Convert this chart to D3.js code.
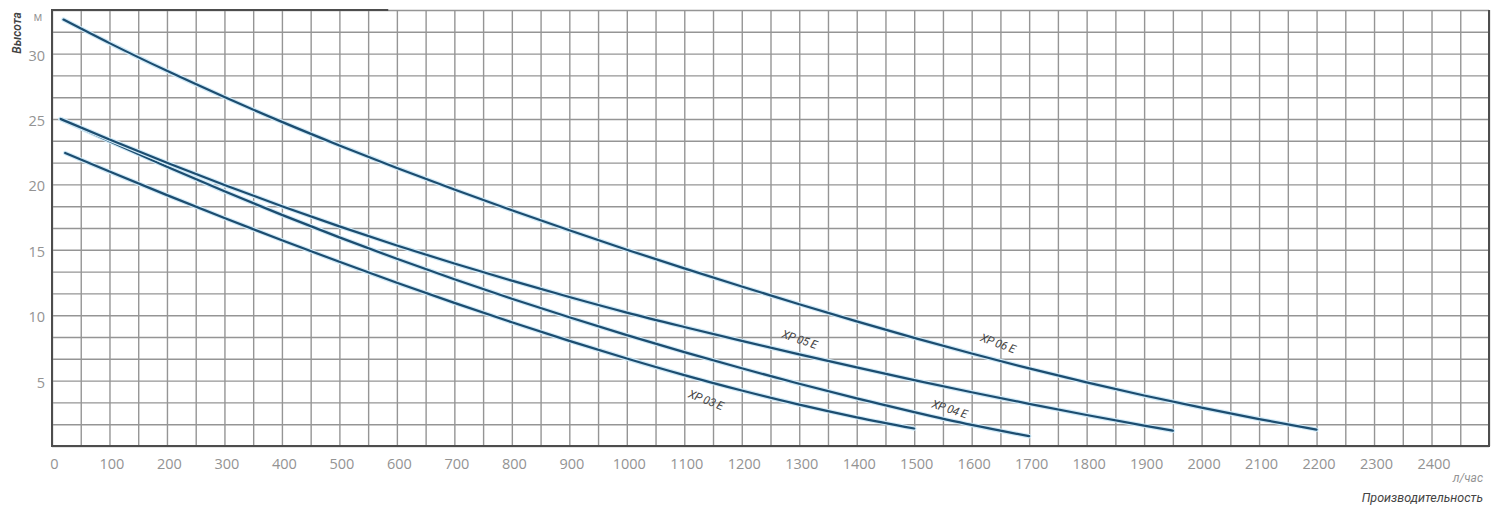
<!DOCTYPE html>
<html>
<head>
<meta charset="utf-8">
<script src="https://cdn.jsdelivr.net/npm/d3@7"></script>
<style>
  html, body { margin: 0; padding: 0; background: #ffffff; }
  svg { display: block; }
</style>
</head>
<body>
<svg id="chart" width="1500" height="520"></svg>
<script>
// ---------- DATA ----------
const xTickLabels = [0,100,200,300,400,500,600,700,800,900,1000,1100,1200,1300,1400,1500,1600,1700,1800,1900,2000,2100,2200,2300,2400];
const yTickLabels = [5,10,15,20,25,30];
const seriesNames = ["XP 03 E","XP 04 E","XP 05 E","XP 06 E"];

const xp03Flow = [23,100,200,300,400,500,600,700,800,900,1000,1100,1200,1300,1400,1500];
const xp03Head = [22.4,20.98,19.18,17.43,15.73,14.08,12.48,10.94,9.46,8.04,6.69,5.42,4.24,3.16,2.19,1.34];

const xp04Flow = [15,100,200,300,400,500,600,700,800,900,1000,1100,1200,1300,1400,1500,1600,1700];
const xp04Head = [25.0,23.3,21.35,19.47,17.67,15.95,14.31,12.75,11.26,9.84,8.48,7.18,5.94,4.76,3.64,2.59,1.61,0.75];

const xp05Flow = [15,100,200,300,400,500,600,700,800,900,1000,1100,1200,1300,1400,1500,1600,1700,1800,1900,1950];
const xp05Head = [25.0,23.43,21.65,19.95,18.33,16.79,15.33,13.95,12.64,11.39,10.2,9.1,8.04,7.01,6.01,5.04,4.11,3.22,2.37,1.56,1.17];

const xp06Flow = [20,100,200,300,400,500,600,700,800,900,1000,1100,1200,1300,1400,1500,1600,1700,1800,1900,2000,2100,2200];
const xp06Head = [32.6,30.8,28.68,26.68,24.78,22.98,21.26,19.61,18.02,16.49,15.01,13.58,12.19,10.84,9.53,8.27,7.07,5.93,4.86,3.86,2.93,2.06,1.25];

// flow at which each curve's name is written
const labelFlow = [1137,1561,1300,1645];

const xUnit = "л/час";
const xTitle = "Производительность";
const yUnit = "м";
const yTitle = "Высота";

// ---------- DRAWING ----------
(function () {
  const svg = d3.select("#chart");
  const pL = 52, pR = 1489, pT = 10, pB = 446;
  const x = d3.scaleLinear().domain([0, 2500]).range([pL, pR]);
  const y = d3.scaleLinear().domain([0, 100/3]).range([pB, pT]);

  const gridColor = "#959595";
  const frameColor = "#4d4d4d";
  const textColor = "#939393";
  const lineColor = "#1c4d70";

  const g = svg.append("g");
  g.append("g")
    .attr("transform", `translate(0,${pB})`)
    .call(d3.axisBottom(x).tickValues(d3.range(0, 2501, 50)).tickSize(-(pB - pT)).tickFormat(""))
    .call(s => s.select(".domain").remove())
    .call(s => s.selectAll("line").attr("stroke", gridColor).attr("stroke-width", 1.4));
  g.append("g")
    .attr("transform", `translate(${pL},0)`)
    .call(d3.axisLeft(y).tickValues(d3.range(0, 21).map(i => i * 5 / 3)).tickSize(-(pR - pL)).tickFormat(""))
    .call(s => s.select(".domain").remove())
    .call(s => s.selectAll("line").attr("stroke", gridColor).attr("stroke-width", 1.4));

  // frame
  g.append("line").attr("x1", pL).attr("x2", pL).attr("y1", pT).attr("y2", pB + 1)
    .attr("stroke", frameColor).attr("stroke-width", 2);
  g.append("line").attr("x1", pL - 1).attr("x2", pR + 1).attr("y1", pB).attr("y2", pB)
    .attr("stroke", frameColor).attr("stroke-width", 2);
  g.append("line").attr("x1", pR).attr("x2", pR).attr("y1", pT).attr("y2", pB)
    .attr("stroke", frameColor).attr("stroke-width", 2);
  g.append("line").attr("x1", pL - 1).attr("x2", x(585)).attr("y1", pT).attr("y2", pT)
    .attr("stroke", frameColor).attr("stroke-width", 2);

  // axis labels
  const xAxis = svg.append("g")
    .attr("transform", `translate(0,${pB})`)
    .call(d3.axisBottom(x).tickValues(xTickLabels).tickSize(0).tickPadding(13).tickFormat(d3.format("d")));
  xAxis.select(".domain").remove();
  xAxis.selectAll("text")
    .attr("fill", textColor).attr("font-family", "Open Sans, sans-serif").attr("font-size", 14.5)
    .attr("dx", 2);

  const yAxis = svg.append("g")
    .attr("transform", `translate(${pL},0)`)
    .call(d3.axisLeft(y).tickValues(yTickLabels).tickSize(0).tickPadding(7).tickFormat(d3.format("d")));
  yAxis.select(".domain").remove();
  yAxis.selectAll("text")
    .attr("fill", textColor).attr("font-family", "Open Sans, sans-serif").attr("font-size", 14.5)
    .attr("dy", "0.45em");

  svg.append("text").attr("x", 38).attr("y", 21).attr("text-anchor", "middle")
    .attr("fill", textColor).attr("font-family", "Open Sans, sans-serif").attr("font-size", 12)
    .text(yUnit);
  svg.append("text")
    .attr("transform", "translate(21,33) rotate(-90)")
    .attr("text-anchor", "middle")
    .attr("fill", "#444").attr("font-family", "Roboto, sans-serif")
    .attr("font-style", "italic").attr("font-weight", 600).attr("font-size", 12)
    .text(yTitle);

  svg.append("text").attr("x", 1483).attr("y", 482).attr("text-anchor", "end")
    .attr("fill", textColor).attr("font-family", "Roboto, sans-serif")
    .attr("font-style", "italic").attr("font-size", 12)
    .text(xUnit);
  svg.append("text").attr("x", 1483).attr("y", 502).attr("text-anchor", "end")
    .attr("fill", "#444").attr("font-family", "Roboto, sans-serif")
    .attr("font-style", "italic").attr("font-size", 12.5)
    .text(xTitle);

  // curves
  const flows = [xp03Flow, xp04Flow, xp05Flow, xp06Flow];
  const heads = [xp03Head, xp04Head, xp05Head, xp06Head];
  const lineGen = d3.line().x(d => x(d[0])).y(d => y(d[1])).curve(d3.curveMonotoneX);
  const labelOffset = [20, -10, -14, -16];

  seriesNames.forEach((name, i) => {
    const pts = d3.zip(flows[i], heads[i]);
    svg.append("path").datum(pts)
      .attr("d", lineGen)
      .attr("fill", "none")
      .attr("stroke", "#cfe9f7")
      .attr("stroke-width", 4.5)
      .attr("stroke-linecap", "round");
    svg.append("path").datum(pts)
      .attr("d", lineGen)
      .attr("fill", "none")
      .attr("stroke", lineColor)
      .attr("stroke-width", 2.2)
      .attr("stroke-linecap", "round");

    const interp = d3.scaleLinear().domain(flows[i]).range(heads[i]);
    const f = labelFlow[i];
    const h = interp(f);
    const h2 = interp(f + 60);
    const angle = Math.atan2(y(h2) - y(h), x(f + 60) - x(f)) * 180 / Math.PI + 6;
    svg.append("text")
      .attr("transform", `translate(${x(f)},${y(h) + labelOffset[i]}) rotate(${angle})`)
      .attr("text-anchor", "middle")
      .attr("dominant-baseline", "middle")
      .attr("fill", "#444")
      .attr("font-family", "Roboto, sans-serif")
      .attr("font-style", "italic")
      .attr("font-size", 11.5)
      .attr("letter-spacing", -0.3)
      .text(name);
  });
})();
</script>
</body>
</html>
